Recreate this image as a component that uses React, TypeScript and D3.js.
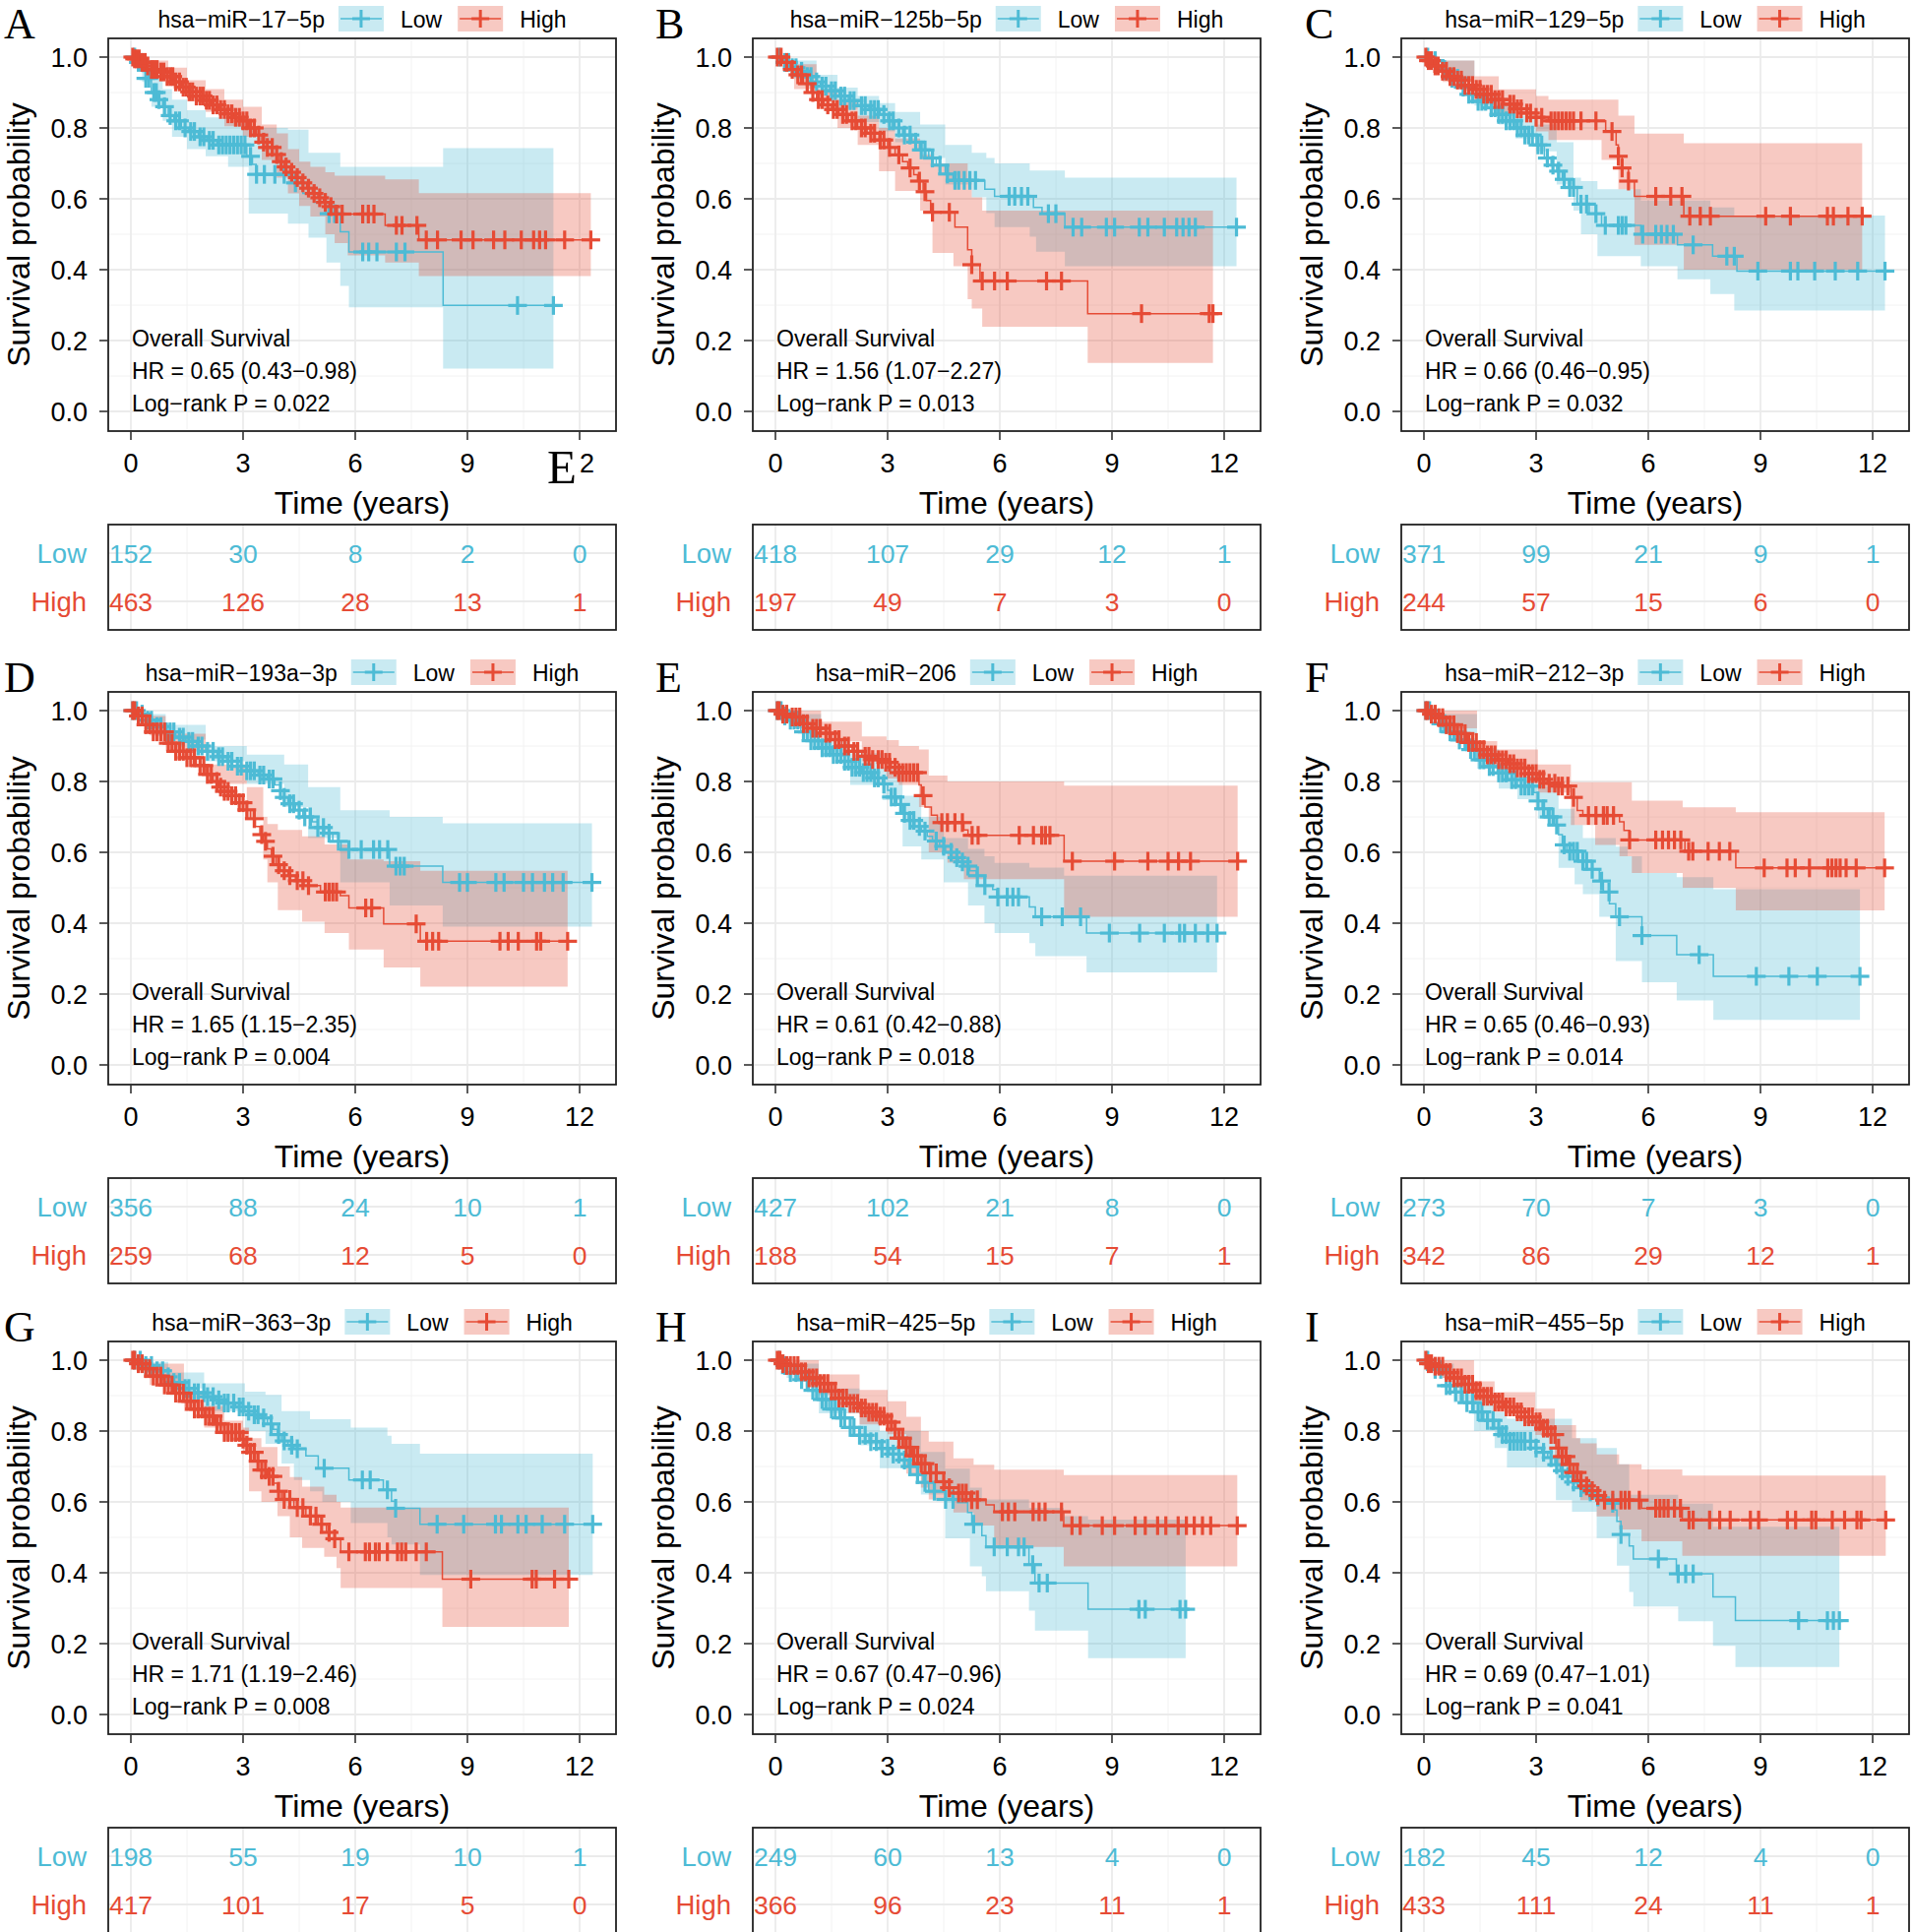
import { useEffect, useRef } from 'react';
import * as d3 from 'd3';

const LOW = '#4DBBD5';
const HIGH = '#E64B35';
const SANS = '"Liberation Sans", Arial, Helvetica, sans-serif';
const SERIF = '"Liberation Serif", "Times New Roman", serif';

const letters = ['A', 'B', 'C', 'D', 'E', 'F', 'G', 'H', 'I'];
const mirnas = ['hsa−miR−17−5p', 'hsa−miR−125b−5p', 'hsa−miR−129−5p', 'hsa−miR−193a−3p', 'hsa−miR−206',
  'hsa−miR−212−3p', 'hsa−miR−363−3p', 'hsa−miR−425−5p', 'hsa−miR−455−5p'];
const hrTexts = ['0.65 (0.43−0.98)', '1.56 (1.07−2.27)', '0.66 (0.46−0.95)', '1.65 (1.15−2.35)', '0.61 (0.42−0.88)',
  '0.65 (0.46−0.93)', '1.71 (1.19−2.46)', '0.67 (0.47−0.96)', '0.69 (0.47−1.01)'];
const pTexts = ['0.022', '0.013', '0.032', '0.004', '0.018', '0.014', '0.008', '0.024', '0.041'];

const riskTimes = [0, 3, 6, 9, 12];
const riskLow = [[152, 30, 8, 2, 0], [418, 107, 29, 12, 1], [371, 99, 21, 9, 1], [356, 88, 24, 10, 1], [427, 102, 21, 8, 0],
  [273, 70, 7, 3, 0], [198, 55, 19, 10, 1], [249, 60, 13, 4, 0], [182, 45, 12, 4, 0]];
const riskHigh = [[463, 126, 28, 13, 1], [197, 49, 7, 3, 0], [244, 57, 15, 6, 0], [259, 68, 12, 5, 0], [188, 54, 15, 7, 1],
  [342, 86, 29, 12, 1], [417, 101, 17, 5, 0], [366, 96, 23, 11, 1], [433, 111, 24, 11, 1]];

// ---- A: hsa-miR-17-5p
const aLowSurv = [[0,1],[0.15,0.985],[0.3,0.96],[0.4,0.94],[0.55,0.9],[0.7,0.88],[0.85,0.86],[1.0,0.835],[1.15,0.82],[1.35,0.8],[1.55,0.79],[1.8,0.775],[2.05,0.765],[2.3,0.752],[3.1,0.72],[3.25,0.697],[3.35,0.669],[4.3,0.645],[4.6,0.615],[4.9,0.59],[5.2,0.558],[5.6,0.507],[5.83,0.45],[8.35,0.299]];
const aLowCI = [[0,1,1],[0.3,0.93,0.99],[0.55,0.86,0.94],[0.85,0.82,0.91],[1.1,0.775,0.88],[1.5,0.74,0.85],[2.0,0.72,0.83],[2.6,0.69,0.815],[3.15,0.558,0.8],[4.2,0.53,0.795],[4.75,0.49,0.73],[5.23,0.42,0.73],[5.6,0.354,0.69],[5.83,0.294,0.69],[8.35,0.121,0.743]];
const aLowCens = [0.1,0.2,0.28,0.4,0.48,0.62,0.68,0.75,0.9,1.05,1.2,1.3,1.45,1.6,1.7,1.85,1.95,2.1,2.2,2.35,2.45,2.55,2.65,2.75,2.85,2.95,3.05,3.2,3.36,3.57,3.85,4.1,4.4,5.3,5.45,6.2,6.36,6.58,7.1,7.33,10.34,11.3];
const aHighSurv = [[0,1],[0.1,0.995],[0.25,0.985],[0.4,0.975],[0.55,0.965],[0.75,0.958],[0.95,0.945],[1.15,0.93],[1.35,0.915],[1.55,0.902],[1.75,0.89],[1.95,0.878],[2.15,0.865],[2.35,0.852],[2.55,0.84],[2.75,0.83],[2.95,0.82],[3.15,0.8],[3.35,0.78],[3.5,0.76],[3.65,0.745],[3.8,0.725],[3.95,0.705],[4.1,0.69],[4.25,0.675],[4.4,0.66],[4.55,0.645],[4.7,0.63],[4.85,0.615],[5.0,0.603],[5.15,0.59],[5.3,0.578],[5.45,0.557],[6.8,0.525],[7.7,0.484]];
const aHighCI = [[0,1,1],[0.1,0.98,1],[0.5,0.955,0.99],[1.0,0.92,0.97],[1.5,0.875,0.935],[2.0,0.845,0.91],[2.5,0.805,0.88],[3.0,0.775,0.86],[3.5,0.71,0.81],[3.9,0.66,0.785],[4.2,0.615,0.74],[4.5,0.58,0.705],[4.8,0.55,0.69],[5.2,0.5,0.675],[5.45,0.475,0.665],[5.8,0.44,0.665],[6.8,0.42,0.655],[7.7,0.382,0.616]];
const aHighCens = [0.05,0.1,0.15,0.22,0.3,0.38,0.45,0.55,0.62,0.7,0.8,0.88,0.97,1.05,1.12,1.2,1.3,1.4,1.48,1.57,1.65,1.75,1.85,1.93,2.02,2.1,2.2,2.3,2.4,2.5,2.6,2.7,2.8,2.9,3.0,3.1,3.2,3.3,3.42,3.55,3.65,3.78,3.9,4.02,4.15,4.3,4.45,4.6,4.75,4.9,5.05,5.2,5.35,5.5,5.65,6.2,6.35,6.5,7.1,7.25,7.65,7.9,8.2,8.83,9.15,9.7,10.0,10.44,10.77,10.93,11.09,11.6,12.3];

// ---- B: hsa-miR-125b-5p
const bLowSurv = [[0,1],[0.2,0.985],[0.4,0.97],[0.6,0.96],[0.8,0.945],[1.0,0.93],[1.2,0.918],[1.45,0.905],[1.7,0.89],[1.95,0.877],[2.2,0.863],[2.5,0.852],[2.8,0.838],[3.0,0.82],[3.2,0.8],[3.4,0.78],[3.65,0.76],[3.85,0.738],[4.1,0.715],[4.3,0.695],[4.54,0.67],[4.75,0.652],[5.6,0.627],[5.86,0.607],[6.9,0.576],[7.13,0.558],[7.74,0.52]];
const bLowCI = [[0,1,1],[0.5,0.94,0.99],[1.1,0.89,0.95],[1.66,0.854,0.914],[2.2,0.817,0.89],[2.77,0.79,0.87],[3.2,0.76,0.845],[3.87,0.715,0.81],[4.54,0.64,0.752],[5.25,0.604,0.73],[5.64,0.56,0.715],[5.86,0.52,0.7],[6.8,0.493,0.68],[6.97,0.451,0.68],[7.74,0.41,0.66]];
const bLowCens = [0.1,0.25,0.35,0.45,0.55,0.7,0.85,0.95,1.1,1.25,1.35,1.5,1.6,1.75,1.85,2.0,2.1,2.3,2.4,2.55,2.65,2.75,2.9,3.05,3.15,3.3,3.45,3.6,3.75,3.9,4.0,4.2,4.4,4.6,4.8,4.9,5.05,5.2,5.35,6.25,6.4,6.58,6.75,7.3,7.5,7.96,8.19,8.85,9.07,9.73,9.96,10.4,10.73,10.9,11.06,11.23,12.33];
const bHighSurv = [[0,1],[0.2,0.985],[0.4,0.965],[0.55,0.95],[0.75,0.925],[0.95,0.9],[1.1,0.88],[1.3,0.865],[1.5,0.852],[1.7,0.838],[1.95,0.82],[2.2,0.8],[2.45,0.785],[2.77,0.766],[3.0,0.745],[3.2,0.724],[3.4,0.705],[3.54,0.687],[3.7,0.668],[3.8,0.65],[3.95,0.62],[4.04,0.595],[4.15,0.562],[4.8,0.52],[5.14,0.456],[5.25,0.414],[5.47,0.368],[8.35,0.276]];
const bHighCI = [[0,1,1],[0.5,0.91,0.98],[1.1,0.854,0.909],[1.66,0.8,0.88],[2.2,0.752,0.835],[2.77,0.678,0.8],[3.2,0.622,0.77],[3.87,0.567,0.724],[4.2,0.447,0.7],[4.76,0.41,0.7],[5.14,0.317,0.65],[5.25,0.29,0.604],[5.53,0.239,0.567],[8.35,0.137,0.567]];
const bHighCens = [0.05,0.15,0.3,0.45,0.6,0.7,0.85,1.0,1.15,1.25,1.4,1.55,1.65,1.8,1.9,2.05,2.15,2.3,2.4,2.55,2.65,2.8,2.9,3.05,3.3,3.6,3.85,4.0,4.2,4.65,5.25,5.53,5.86,6.2,7.25,7.65,9.79,11.6,11.7];

// ---- C: hsa-miR-129-5p
const cLowSurv = [[0,1],[0.2,0.99],[0.47,0.965],[0.7,0.94],[0.95,0.915],[1.2,0.895],[1.45,0.875],[1.7,0.857],[1.95,0.838],[2.2,0.82],[2.45,0.8],[2.7,0.78],[3.0,0.752],[3.22,0.715],[3.4,0.695],[3.55,0.678],[3.7,0.655],[3.87,0.632],[4.1,0.585],[4.42,0.558],[4.75,0.525],[5.8,0.5],[6.78,0.47],[7.72,0.438],[8.37,0.396]];
const cLowCI = [[0,1,1],[0.5,0.94,0.99],[1.35,0.863,0.9],[2.0,0.81,0.87],[2.45,0.77,0.835],[3.0,0.734,0.81],[3.55,0.64,0.76],[4.0,0.567,0.66],[4.2,0.5,0.65],[4.64,0.438,0.627],[5.8,0.41,0.595],[6.78,0.373,0.595],[7.66,0.331,0.576],[8.3,0.285,0.553]];
const cLowCens = [0.1,0.3,0.55,0.75,0.9,1.05,1.2,1.3,1.45,1.55,1.65,1.8,1.9,2.0,2.1,2.2,2.3,2.4,2.5,2.6,2.7,2.8,2.9,3.05,3.15,3.3,3.45,3.6,3.75,3.9,4.0,4.2,4.35,4.6,4.85,5.2,5.3,5.4,5.85,6.2,6.35,6.5,6.67,7.2,8.1,8.3,8.93,9.8,10.0,10.45,11.0,11.6,12.33];
const cHighSurv = [[0,1],[0.1,0.99],[0.25,0.975],[0.45,0.96],[0.65,0.945],[0.85,0.935],[1.1,0.92],[1.35,0.909],[1.6,0.895],[1.9,0.88],[2.15,0.867],[2.45,0.854],[2.75,0.842],[3.0,0.83],[3.33,0.82],[4.86,0.79],[5.14,0.752],[5.2,0.72],[5.3,0.687],[5.47,0.65],[5.63,0.607],[6.95,0.551]];
const cHighCI = [[0,1,1],[0.5,0.93,0.99],[1.35,0.872,0.946],[2.0,0.84,0.909],[3.0,0.79,0.89],[3.33,0.766,0.88],[4.75,0.71,0.88],[5.2,0.627,0.835],[5.63,0.47,0.784],[6.95,0.4,0.757]];
const cHighCens = [0.05,0.12,0.2,0.3,0.38,0.5,0.6,0.7,0.8,0.9,1.0,1.1,1.2,1.3,1.4,1.5,1.6,1.7,1.8,1.9,2.0,2.1,2.3,2.4,2.5,2.6,2.75,2.85,3.0,3.15,3.4,3.5,3.6,3.7,3.8,3.9,4.0,4.2,4.6,5.03,5.2,5.3,5.47,6.2,6.6,6.9,7.11,7.39,7.66,9.14,9.8,10.79,10.95,11.34,11.72];

// ---- D: hsa-miR-193a-3p
const dLowSurv = [[0,1],[0.2,0.99],[0.38,0.973],[0.65,0.955],[0.93,0.94],[1.2,0.925],[1.47,0.913],[1.75,0.9],[2.0,0.885],[2.3,0.87],[2.56,0.857],[2.85,0.843],[3.1,0.83],[3.4,0.818],[3.65,0.807],[3.85,0.79],[4.0,0.774],[4.1,0.755],[4.2,0.737],[4.4,0.719],[4.6,0.7],[4.85,0.686],[5.0,0.67],[5.18,0.654],[5.4,0.631],[5.62,0.608],[6.92,0.561],[8.34,0.515]];
const dLowCI = [[0,1,1],[0.5,0.94,0.99],[0.93,0.918,0.96],[2.0,0.857,0.9],[3.1,0.793,0.876],[4.1,0.728,0.848],[4.74,0.64,0.784],[5.6,0.515,0.719],[6.92,0.45,0.7],[8.34,0.39,0.682]];
const dLowCens = [0.05,0.15,0.3,0.45,0.55,0.7,0.8,0.95,1.05,1.15,1.3,1.4,1.55,1.65,1.8,1.9,2.05,2.2,2.35,2.45,2.6,2.7,2.85,2.95,3.1,3.2,3.3,3.45,3.55,3.7,3.8,4.0,4.1,4.25,4.35,4.5,4.65,4.8,5.0,5.15,5.3,5.55,5.83,6.16,6.49,6.65,6.87,7.09,7.2,7.31,8.79,9.0,9.76,9.98,10.5,10.74,11.06,11.28,11.56,12.33];
const dHighSurv = [[0,1],[0.15,0.985],[0.38,0.96],[0.6,0.94],[0.93,0.908],[1.2,0.885],[1.47,0.867],[1.75,0.845],[2.0,0.82],[2.2,0.8],[2.35,0.784],[2.5,0.772],[2.67,0.76],[2.9,0.74],[3.1,0.72],[3.2,0.695],[3.33,0.673],[3.45,0.65],[3.54,0.631],[3.65,0.61],[3.76,0.589],[3.88,0.565],[4.0,0.548],[4.2,0.534],[4.4,0.52],[4.63,0.506],[5.07,0.488],[5.6,0.478],[5.83,0.443],[6.76,0.398],[7.74,0.349]];
const dHighCI = [[0,1,1],[0.5,0.93,0.985],[0.93,0.885,0.935],[2.0,0.793,0.848],[3.1,0.7,0.784],[3.54,0.58,0.7],[3.65,0.515,0.68],[3.93,0.437,0.663],[4.58,0.404,0.645],[5.18,0.372,0.622],[5.83,0.326,0.58],[6.76,0.275,0.575],[7.74,0.221,0.548]];
const dHighCens = [0.05,0.1,0.2,0.3,0.4,0.5,0.6,0.7,0.8,0.9,1.0,1.1,1.2,1.3,1.4,1.5,1.6,1.7,1.85,1.95,2.05,2.15,2.3,2.4,2.5,2.6,2.7,2.8,2.9,3.0,3.1,3.3,3.5,3.6,3.8,3.95,4.1,4.25,4.45,4.6,4.75,5.2,5.3,5.4,5.5,6.28,6.44,7.63,7.91,8.07,8.23,9.87,10.09,10.36,10.85,10.96,11.68];

// ---- E: hsa-miR-206
const eLowSurv = [[0,1],[0.2,0.985],[0.35,0.973],[0.68,0.94],[0.95,0.915],[1.22,0.895],[1.5,0.876],[1.77,0.857],[2.05,0.84],[2.31,0.825],[2.6,0.81],[2.86,0.793],[3.0,0.775],[3.08,0.756],[3.25,0.735],[3.4,0.71],[3.55,0.69],[3.73,0.673],[3.9,0.66],[4.06,0.645],[4.2,0.632],[4.39,0.617],[4.55,0.6],[4.72,0.585],[4.9,0.573],[5.04,0.561],[5.2,0.548],[5.37,0.534],[5.59,0.506],[5.81,0.495],[5.92,0.474],[6.79,0.446],[6.95,0.418],[8.32,0.372]];
const eLowCI = [[0,1,1],[0.5,0.95,0.99],[1.22,0.87,0.913],[2.0,0.79,0.88],[2.86,0.747,0.84],[3.4,0.617,0.76],[3.9,0.58,0.7],[4.5,0.515,0.64],[5.15,0.45,0.61],[5.59,0.4,0.589],[5.86,0.372,0.57],[6.79,0.344,0.557],[6.95,0.307,0.557],[7.72,0.307,0.534],[8.32,0.261,0.534]];
const eLowCens = [0.05,0.15,0.25,0.4,0.5,0.6,0.75,0.85,0.95,1.05,1.15,1.25,1.35,1.45,1.55,1.65,1.75,1.85,1.95,2.05,2.15,2.25,2.35,2.45,2.55,2.65,2.75,2.9,3.1,3.2,3.35,3.45,3.6,3.7,3.85,4.0,4.3,4.5,4.7,4.85,5.0,5.15,5.4,5.6,5.95,6.2,6.35,6.5,7.12,7.67,8.16,8.93,9.74,10.4,10.81,10.94,11.23,11.56,11.81];
const eHighSurv = [[0,1],[0.2,0.99],[0.35,0.982],[0.68,0.963],[0.95,0.95],[1.22,0.936],[1.5,0.918],[1.77,0.9],[2.05,0.885],[2.31,0.871],[2.6,0.862],[2.86,0.854],[3.1,0.84],[3.3,0.825],[3.84,0.79],[3.9,0.76],[4.0,0.728],[4.17,0.705],[4.33,0.684],[5.04,0.663],[5.15,0.648],[7.72,0.575]];
const eHighCI = [[0,1,1],[0.5,0.95,1],[1.22,0.913,0.969],[2.31,0.857,0.927],[2.97,0.808,0.917],[3.3,0.79,0.9],[3.84,0.728,0.89],[4.1,0.6,0.817],[4.6,0.571,0.8],[5.04,0.524,0.8],[7.72,0.418,0.788]];
const eHighCens = [0.05,0.1,0.2,0.3,0.45,0.55,0.65,0.75,0.85,1.0,1.1,1.2,1.35,1.45,1.6,1.7,1.85,1.95,2.1,2.2,2.4,2.5,2.6,2.75,2.85,2.95,3.05,3.2,3.3,3.4,3.5,3.6,3.7,3.8,3.95,4.45,4.6,4.8,5.0,5.26,5.42,6.52,6.9,7.12,7.22,7.34,7.94,9.07,9.96,10.5,10.78,11.1,12.36];

// ---- F: hsa-miR-212-3p
const fLowSurv = [[0,1],[0.2,0.985],[0.4,0.963],[0.65,0.94],[0.87,0.917],[1.15,0.89],[1.42,0.861],[1.7,0.842],[1.96,0.824],[2.25,0.805],[2.5,0.787],[2.94,0.769],[3.05,0.745],[3.16,0.723],[3.3,0.7],[3.49,0.677],[3.6,0.65],[3.7,0.621],[3.82,0.603],[4.14,0.575],[4.36,0.552],[4.69,0.519],[4.8,0.488],[4.96,0.455],[5.13,0.418],[5.83,0.365],[6.76,0.311],[7.74,0.25]];
const fLowCI = [[0,1,1],[0.5,0.935,0.99],[1.42,0.836,0.89],[2.0,0.78,0.855],[2.5,0.75,0.815],[3.05,0.695,0.787],[3.6,0.556,0.723],[4.03,0.51,0.677],[4.25,0.482,0.64],[4.69,0.418,0.64],[5.13,0.293,0.616],[5.45,0.293,0.589],[5.83,0.233,0.542],[6.76,0.182,0.53],[7.74,0.127,0.496]];
const fLowCens = [0.05,0.15,0.3,0.45,0.55,0.7,0.8,0.95,1.1,1.25,1.35,1.5,1.6,1.75,1.85,2.0,2.1,2.2,2.35,2.45,2.6,2.7,2.8,2.9,3.05,3.2,3.35,3.45,3.55,3.75,3.9,4.0,4.1,4.25,4.35,4.5,4.75,4.95,5.23,5.83,7.36,8.89,9.76,10.52,11.66];
const fHighSurv = [[0,1],[0.15,0.99],[0.33,0.98],[0.6,0.96],[0.87,0.935],[1.15,0.91],[1.42,0.89],[1.7,0.875],[1.96,0.861],[2.25,0.85],[2.5,0.838],[2.8,0.822],[3.05,0.806],[3.3,0.795],[3.6,0.787],[3.93,0.755],[4.1,0.718],[4.25,0.704],[5.23,0.686],[5.35,0.662],[5.5,0.635],[6.98,0.603],[8.34,0.556]];
const fHighCI = [[0,1,1],[0.5,0.95,1],[1.42,0.861,0.914],[1.96,0.83,0.89],[3.05,0.769,0.848],[3.93,0.677,0.798],[4.58,0.621,0.798],[5.23,0.589,0.798],[5.56,0.542,0.746],[6.92,0.5,0.727],[8.34,0.436,0.713]];
const fHighCens = [0.05,0.1,0.2,0.3,0.4,0.5,0.6,0.7,0.8,0.9,1.0,1.1,1.2,1.3,1.4,1.5,1.6,1.7,1.8,1.9,2.0,2.1,2.2,2.3,2.4,2.5,2.6,2.7,2.8,2.9,3.0,3.1,3.2,3.35,3.5,3.6,3.7,3.85,4.0,4.4,4.6,4.8,4.9,5.07,5.5,6.2,6.38,6.54,6.7,6.87,7.08,7.19,7.6,7.9,8.18,9.1,9.71,9.93,10.31,10.8,10.91,11.02,11.13,11.29,11.56,12.32];

// ---- G: hsa-miR-363-3p
const gLowSurv = [[0,1],[0.33,0.985],[0.6,0.97],[0.87,0.953],[1.15,0.937],[1.42,0.92],[1.7,0.908],[1.96,0.897],[2.25,0.888],[2.5,0.879],[2.8,0.868],[3.05,0.856],[3.3,0.846],[3.49,0.837],[3.65,0.82],[3.81,0.805],[3.92,0.79],[4.03,0.772],[4.2,0.76],[4.36,0.75],[4.68,0.73],[5.01,0.695],[5.83,0.662],[6.75,0.634],[6.97,0.602],[7.08,0.582],[7.73,0.537]];
const gLowCI = [[0,1,1],[0.5,0.955,0.995],[1.0,0.92,0.965],[1.96,0.856,0.935],[3.05,0.8,0.911],[3.6,0.764,0.902],[4.03,0.708,0.856],[4.36,0.662,0.856],[4.79,0.63,0.833],[5.12,0.6,0.833],[5.88,0.54,0.81],[6.86,0.5,0.787],[6.97,0.48,0.764],[7.73,0.394,0.736]];
const gLowCens = [0.1,0.25,0.4,0.55,0.7,0.85,1.0,1.15,1.3,1.45,1.55,1.7,1.8,1.95,2.05,2.2,2.35,2.5,2.6,2.75,2.9,3.0,3.15,3.3,3.4,3.55,3.75,3.95,4.1,4.3,4.45,5.17,6.19,6.4,6.86,7.08,8.19,8.9,9.75,9.91,10.35,10.57,11.0,11.6,12.35];
const gHighSurv = [[0,1],[0.2,0.99],[0.33,0.976],[0.6,0.955],[0.87,0.93],[1.15,0.907],[1.42,0.884],[1.7,0.862],[1.96,0.842],[2.25,0.82],[2.5,0.796],[2.94,0.777],[3.05,0.76],[3.16,0.74],[3.33,0.715],[3.49,0.69],[3.65,0.672],[3.81,0.653],[3.92,0.63],[4.03,0.607],[4.36,0.584],[4.68,0.56],[5.01,0.537],[5.23,0.514],[5.45,0.496],[5.61,0.459],[8.33,0.382]];
const gHighCI = [[0,1,1],[0.5,0.93,0.99],[1.42,0.856,0.91],[1.96,0.81,0.871],[2.5,0.773,0.829],[3.0,0.736,0.81],[3.16,0.63,0.78],[3.49,0.6,0.755],[3.92,0.56,0.7],[4.25,0.5,0.67],[4.58,0.47,0.643],[5.17,0.445,0.62],[5.5,0.413,0.6],[5.61,0.357,0.584],[8.33,0.247,0.584]];
const gHighCens = [0.05,0.1,0.2,0.3,0.4,0.5,0.6,0.7,0.8,0.9,1.0,1.1,1.2,1.3,1.4,1.5,1.6,1.7,1.8,1.9,2.0,2.1,2.2,2.3,2.4,2.5,2.6,2.7,2.8,2.9,3.0,3.1,3.2,3.3,3.4,3.5,3.6,3.7,3.8,3.95,4.1,4.25,4.45,4.6,4.8,4.95,5.1,5.3,5.45,5.83,6.27,6.38,6.54,6.64,6.86,7.13,7.24,7.35,7.63,7.9,9.09,10.73,10.84,11.33,11.71];

// ---- H: hsa-miR-425-5p
const hLowSurv = [[0,1],[0.15,0.985],[0.3,0.965],[0.61,0.945],[0.9,0.915],[1.16,0.889],[1.43,0.862],[1.7,0.837],[2.0,0.81],[2.25,0.788],[2.5,0.77],[2.79,0.751],[3.05,0.735],[3.34,0.718],[3.55,0.7],[3.78,0.677],[3.95,0.655],[4.1,0.63],[4.54,0.607],[4.87,0.598],[5.14,0.57],[5.25,0.537],[5.52,0.505],[5.63,0.473],[6.78,0.423],[6.94,0.371],[8.36,0.297]];
const hLowCI = [[0,1,1],[0.3,0.95,0.99],[1.16,0.85,0.92],[2.25,0.76,0.852],[2.79,0.695,0.8],[3.89,0.621,0.741],[4.54,0.497,0.694],[5.2,0.418,0.64],[5.52,0.39,0.607],[5.63,0.348,0.607],[6.78,0.293,0.583],[6.94,0.237,0.583],[7.71,0.237,0.56],[8.36,0.159,0.55]];
const hLowCens = [0.1,0.25,0.4,0.55,0.7,0.85,1.0,1.1,1.25,1.35,1.5,1.6,1.75,1.85,2.0,2.1,2.25,2.4,2.55,2.7,2.85,3.0,3.15,3.3,3.45,3.6,3.8,4.0,4.25,4.55,4.75,5.3,5.85,6.2,6.5,6.65,6.88,7.05,7.27,9.72,9.89,10.82,10.97];
const hHighSurv = [[0,1],[0.15,0.99],[0.28,0.985],[0.61,0.967],[0.9,0.95],[1.16,0.934],[1.43,0.913],[1.7,0.893],[2.0,0.878],[2.25,0.865],[2.5,0.853],[2.79,0.842],[2.95,0.825],[3.12,0.805],[3.3,0.78],[3.45,0.754],[3.65,0.73],[3.89,0.708],[4.1,0.682],[4.32,0.657],[4.55,0.64],[4.76,0.625],[5.2,0.606],[5.63,0.592],[5.85,0.572],[7.71,0.533]];
const hHighCI = [[0,1,1],[0.5,0.95,1],[1.16,0.902,0.96],[2.25,0.819,0.916],[3.0,0.791,0.884],[3.5,0.68,0.84],[3.89,0.64,0.8],[4.1,0.607,0.77],[4.76,0.57,0.723],[5.3,0.533,0.705],[5.85,0.473,0.691],[7.71,0.418,0.676]];
const hHighCens = [0.05,0.12,0.2,0.3,0.4,0.5,0.6,0.7,0.8,0.9,1.0,1.1,1.2,1.3,1.4,1.5,1.6,1.7,1.8,1.9,2.0,2.1,2.2,2.3,2.4,2.5,2.6,2.7,2.8,2.9,3.0,3.1,3.2,3.3,3.4,3.5,3.6,3.7,3.8,3.9,4.0,4.15,4.3,4.5,4.65,4.9,5.0,5.1,5.25,5.4,6.07,6.23,6.4,6.89,7.05,7.21,7.65,7.93,8.15,8.74,9.07,9.62,9.89,10.22,10.44,10.77,10.99,11.2,11.42,11.64,12.35];

// ---- I: hsa-miR-455-5p
const iLowSurv = [[0,1],[0.2,0.985],[0.25,0.974],[0.58,0.928],[0.8,0.91],[1.05,0.88],[1.34,0.854],[1.6,0.83],[1.89,0.808],[2.05,0.79],[2.22,0.771],[2.98,0.752],[3.15,0.74],[3.31,0.725],[3.5,0.705],[3.64,0.688],[3.8,0.672],[3.96,0.656],[4.1,0.64],[4.29,0.628],[4.62,0.614],[4.95,0.596],[5.11,0.577],[5.16,0.545],[5.27,0.508],[5.49,0.476],[5.6,0.439],[6.75,0.397],[7.73,0.332],[8.33,0.265]];
const iLowCI = [[0,1,1],[0.5,0.95,0.99],[0.8,0.88,0.95],[1.34,0.8,0.9],[1.89,0.752,0.854],[2.22,0.697,0.835],[3.53,0.605,0.835],[3.96,0.572,0.78],[4.62,0.498,0.752],[5.16,0.42,0.706],[5.49,0.346,0.62],[5.6,0.305,0.62],[6.8,0.263,0.595],[7.73,0.194,0.53],[8.33,0.134,0.53]];
const iLowCens = [0.1,0.3,0.45,0.6,0.7,0.85,1.0,1.15,1.3,1.45,1.55,1.7,1.85,2.0,2.1,2.2,2.3,2.4,2.5,2.6,2.7,2.85,3.0,3.2,3.4,3.55,3.7,3.85,4.0,4.2,4.45,4.65,5.05,5.27,6.27,6.8,7.0,7.2,10.02,10.79,10.95,11.11];
const iHighSurv = [[0,1],[0.1,0.99],[0.25,0.983],[0.58,0.965],[0.8,0.95],[1.05,0.932],[1.34,0.914],[1.6,0.898],[1.89,0.882],[2.15,0.868],[2.43,0.854],[2.7,0.84],[2.98,0.826],[3.15,0.808],[3.31,0.79],[3.53,0.752],[3.7,0.728],[3.85,0.706],[4.0,0.683],[4.18,0.66],[4.35,0.645],[4.5,0.632],[4.65,0.618],[4.78,0.605],[5.82,0.582],[6.91,0.549]];
const iHighCI = [[0,1,1],[0.5,0.95,1],[1.34,0.885,0.94],[1.89,0.854,0.91],[2.98,0.789,0.863],[3.5,0.7,0.817],[4.07,0.64,0.78],[4.18,0.605,0.765],[4.62,0.559,0.734],[5.22,0.522,0.706],[5.82,0.489,0.692],[6.91,0.448,0.674]];
const iHighCens = [0.05,0.12,0.2,0.3,0.4,0.5,0.6,0.7,0.8,0.9,1.0,1.1,1.2,1.3,1.4,1.5,1.6,1.7,1.8,1.9,2.0,2.1,2.2,2.3,2.4,2.5,2.6,2.7,2.8,2.9,3.0,3.1,3.2,3.3,3.4,3.5,3.6,3.7,3.8,3.9,4.0,4.1,4.2,4.35,4.5,4.65,4.83,5.05,5.27,5.38,5.49,5.76,6.2,6.31,6.42,6.53,6.7,6.86,7.09,7.2,7.64,7.91,8.19,8.73,8.95,9.72,9.94,10.37,10.48,10.92,11.25,11.58,11.69,12.35];

const lowCurves = [
  [aLowSurv, aLowCI, aLowCens], [bLowSurv, bLowCI, bLowCens], [cLowSurv, cLowCI, cLowCens],
  [dLowSurv, dLowCI, dLowCens], [eLowSurv, eLowCI, eLowCens], [fLowSurv, fLowCI, fLowCens],
  [gLowSurv, gLowCI, gLowCens], [hLowSurv, hLowCI, hLowCens], [iLowSurv, iLowCI, iLowCens],
];
const highCurves = [
  [aHighSurv, aHighCI, aHighCens], [bHighSurv, bHighCI, bHighCens], [cHighSurv, cHighCI, cHighCens],
  [dHighSurv, dHighCI, dHighCens], [eHighSurv, eHighCI, eHighCens], [fHighSurv, fHighCI, fHighCens],
  [gHighSurv, gHighCI, gHighCens], [hHighSurv, hHighCI, hHighCens], [iHighSurv, iHighCI, iHighCens],
];

// layout (px)
const W = 1944;
const H = 1963;
const boxLeft = [110, 765, 1424];
const boxTop = [39, 703, 1363];
const letterX = [4, 666, 1326];
const BW = 516;
const BH = 399;
const TABLE_TOP = 494;
const TABLE_BOT = 601;

function stepAt(surv: number[][], t: number) {
  let s = surv[0][1];
  for (const d of surv) if (d[0] <= t) s = d[1];
  return s;
}

function drawPanel(svg: any, i: number) {
  const col = i % 3;
  const row = Math.floor(i / 3);
  const g = svg.append('g').attr('transform', `translate(${boxLeft[col]},${boxTop[row]})`);

  const x = d3.scaleLinear().domain([0, 12]).range([23, 479]);
  const y = d3.scaleLinear().domain([0, 1]).range([379, 19]);
  const xMajor = [0, 3, 6, 9, 12];
  const xMinor = [1.5, 4.5, 7.5, 10.5];
  const yMajor = [0, 0.2, 0.4, 0.6, 0.8, 1.0];
  const yMinor = [0.1, 0.3, 0.5, 0.7, 0.9];

  // grid
  g.selectAll('.vmin').data(xMinor).join('line').attr('x1', (d) => x(d)).attr('x2', (d) => x(d))
    .attr('y1', 0).attr('y2', BH).attr('stroke', '#F2F2F2').attr('stroke-width', 1);
  g.selectAll('.hmin').data(yMinor).join('line').attr('y1', (d) => y(d)).attr('y2', (d) => y(d))
    .attr('x1', 0).attr('x2', BW).attr('stroke', '#F2F2F2').attr('stroke-width', 1);
  g.selectAll('.vmaj').data(xMajor).join('line').attr('x1', (d) => x(d)).attr('x2', (d) => x(d))
    .attr('y1', 0).attr('y2', BH).attr('stroke', '#EBEBEB').attr('stroke-width', 1.8);
  g.selectAll('.hmaj').data(yMajor).join('line').attr('y1', (d) => y(d)).attr('y2', (d) => y(d))
    .attr('x1', 0).attr('x2', BW).attr('stroke', '#EBEBEB').attr('stroke-width', 1.8);

  const groups = [
    { c: lowCurves[i], color: LOW },
    { c: highCurves[i], color: HIGH },
  ];

  const area = d3.area<number[]>().curve(d3.curveStepAfter)
    .x((d) => x(d[0])).y0((d) => y(d[1])).y1((d) => y(d[2]));
  const line = d3.line<number[]>().curve(d3.curveStepAfter)
    .x((d) => x(d[0])).y((d) => y(d[1]));

  groups.forEach(({ c, color }) => {
    const [surv, ci, cens] = c as [number[][], number[][], number[]];
    const end = Math.max(d3.max(cens) as number, surv[surv.length - 1][0]);
    const lastCI = ci[ci.length - 1];
    g.append('path').datum([...ci, [end, lastCI[1], lastCI[2]]])
      .attr('d', area).attr('fill', color).attr('fill-opacity', 0.3);
  });

  groups.forEach(({ c, color }) => {
    const [surv, , cens] = c as [number[][], number[][], number[]];
    const end = Math.max(d3.max(cens) as number, surv[surv.length - 1][0]);
    const lastS = surv[surv.length - 1];
    g.append('path').datum([...surv, [end, lastS[1]]])
      .attr('d', line).attr('fill', 'none').attr('stroke', color).attr('stroke-width', 1.5);
    const cg = g.append('g').attr('stroke', color).attr('stroke-width', 3.2);
    cens.forEach((t) => {
      const cx = x(t);
      const cy = y(stepAt(surv, t));
      cg.append('line').attr('x1', cx - 9.5).attr('x2', cx + 9.5).attr('y1', cy).attr('y2', cy);
      cg.append('line').attr('x1', cx).attr('x2', cx).attr('y1', cy - 9.5).attr('y2', cy + 9.5);
    });
  });

  // border
  g.append('rect').attr('width', BW).attr('height', BH).attr('fill', 'none')
    .attr('stroke', '#222').attr('stroke-width', 1.8);

  // y axis
  yMajor.forEach((v) => {
    g.append('line').attr('x1', -9).attr('x2', 0).attr('y1', y(v)).attr('y2', y(v))
      .attr('stroke', '#333').attr('stroke-width', 1.6);
    g.append('text').attr('x', -21).attr('y', y(v)).attr('dy', '0.36em').attr('text-anchor', 'end')
      .attr('font-family', SANS).attr('font-size', 27).attr('fill', '#000').text(d3.format('.1f')(v));
  });
  // x axis
  xMajor.forEach((v) => {
    g.append('line').attr('x1', x(v)).attr('x2', x(v)).attr('y1', BH).attr('y2', BH + 9)
      .attr('stroke', '#333').attr('stroke-width', 1.6);
    g.append('text').attr('x', x(v)).attr('y', BH + 42).attr('text-anchor', 'middle')
      .attr('font-family', SANS).attr('font-size', 27).attr('fill', '#000').text(String(v));
  });
  g.append('text').attr('x', BW / 2).attr('y', BH + 84).attr('text-anchor', 'middle')
    .attr('font-family', SANS).attr('font-size', 32).attr('fill', '#000').text('Time (years)');
  g.append('text').attr('transform', `translate(-80,${BH / 2}) rotate(-90)`).attr('text-anchor', 'middle')
    .attr('font-family', SANS).attr('font-size', 32).attr('fill', '#000').text('Survival probability');

  // annotation
  const ann = ['Overall Survival', `HR = ${hrTexts[i]}`, `Log−rank P = ${pTexts[i]}`];
  ann.forEach((s, k) => {
    g.append('text').attr('x', 24).attr('y', 313 + k * 33).attr('font-family', SANS)
      .attr('font-size', 23).attr('fill', '#000').text(s);
  });

  // panel letter
  g.append('text').attr('x', letterX[col] - boxLeft[col]).attr('y', 0).attr('font-family', SERIF)
    .attr('font-size', 44).attr('fill', '#000').text(letters[i]);

  // legend
  const lg = g.append('g');
  const title = lg.append('text').attr('x', 0).attr('y', -11).attr('font-family', SANS)
    .attr('font-size', 23).attr('fill', '#000').text(mirnas[i]);
  const tw = (title.node() as SVGTextElement).getComputedTextLength();
  let cursor = tw + 14;
  [['Low', LOW], ['High', HIGH]].forEach(([lab, color]) => {
    lg.append('rect').attr('x', cursor).attr('y', -33).attr('width', 46).attr('height', 26)
      .attr('fill', color).attr('fill-opacity', 0.3);
    lg.append('line').attr('x1', cursor + 2).attr('x2', cursor + 44).attr('y1', -20).attr('y2', -20)
      .attr('stroke', color).attr('stroke-width', 1.6);
    lg.append('line').attr('x1', cursor + 14).attr('x2', cursor + 32).attr('y1', -20).attr('y2', -20)
      .attr('stroke', color).attr('stroke-width', 3);
    lg.append('line').attr('x1', cursor + 23).attr('x2', cursor + 23).attr('y1', -29).attr('y2', -11)
      .attr('stroke', color).attr('stroke-width', 3);
    const t = lg.append('text').attr('x', cursor + 63).attr('y', -11).attr('font-family', SANS)
      .attr('font-size', 23).attr('fill', '#000').text(lab);
    cursor += 63 + (t.node() as SVGTextElement).getComputedTextLength() + 16;
  });
  const total = cursor - 16;
  lg.attr('transform', `translate(${BW / 2 - total / 2},0)`);

  // risk table
  const tg = g.append('g').attr('transform', `translate(0,${TABLE_TOP})`);
  const th = TABLE_BOT - TABLE_TOP;
  const rowY = [29, 78];
  tg.selectAll('.tvmin').data(xMinor).join('line').attr('x1', (d) => x(d)).attr('x2', (d) => x(d))
    .attr('y1', 0).attr('y2', th).attr('stroke', '#F2F2F2').attr('stroke-width', 1);
  tg.selectAll('.tvmaj').data(xMajor).join('line').attr('x1', (d) => x(d)).attr('x2', (d) => x(d))
    .attr('y1', 0).attr('y2', th).attr('stroke', '#EBEBEB').attr('stroke-width', 1.8);
  tg.selectAll('.thmaj').data(rowY).join('line').attr('y1', (d) => d).attr('y2', (d) => d)
    .attr('x1', 0).attr('x2', BW).attr('stroke', '#EBEBEB').attr('stroke-width', 1.8);
  tg.append('rect').attr('width', BW).attr('height', th).attr('fill', 'none')
    .attr('stroke', '#222').attr('stroke-width', 1.8);
  const rows: [string, string, number[]][] = [['Low', LOW, riskLow[i]], ['High', HIGH, riskHigh[i]]];
  rows.forEach(([lab, color, vals], k) => {
    tg.append('text').attr('x', -22).attr('y', rowY[k]).attr('dy', '0.36em').attr('text-anchor', 'end')
      .attr('font-family', SANS).attr('font-size', 27.5).attr('fill', color).text(lab);
    vals.forEach((v, j) => {
      tg.append('text').attr('x', x(riskTimes[j])).attr('y', rowY[k]).attr('dy', '0.36em')
        .attr('text-anchor', 'middle').attr('font-family', SANS).attr('font-size', 26.5)
        .attr('fill', color).text(String(v));
    });
  });

  // stray panel label overlapping the "12" tick of panel A in the source figure
  if (i === 0) {
    g.append('rect').attr('x', 446).attr('y', 414).attr('width', 32).attr('height', 40).attr('fill', '#fff');
    g.append('text').attr('x', 446).attr('y', 452).attr('font-family', SERIF).attr('font-size', 49)
      .attr('fill', '#000').text('E');
  }
}

export default function App() {
  const svgRef = useRef<SVGSVGElement>(null);

  useEffect(() => {
    document.body.style.margin = '0';
    const svg = d3.select(svgRef.current);
    svg.selectAll('*').remove();
    svg.append('rect').attr('width', W).attr('height', H).attr('fill', '#fff');
    for (let i = 0; i < 9; i++) drawPanel(svg, i);
  }, []);

  return <svg ref={svgRef} width={W} height={H} style={{ display: 'block' }} />;
}
